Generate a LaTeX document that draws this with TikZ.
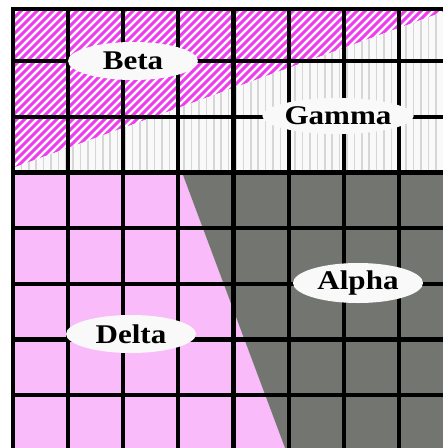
\documentclass[tikz,border=0pt]{standalone}
\usepackage{fontspec}
\usepackage{tikz}
\usepackage{xcolor}
\usetikzlibrary{shapes.geometric}
\newfontfamily\labelfont{Liberation Serif}[FakeStretch=1.15]
\definecolor{hatchpink}{RGB}{240,60,240}
\definecolor{deltapink}{RGB}{249,187,249}
\definecolor{alphagray}{RGB}{115,118,112}
\definecolor{stripegray}{RGB}{214,214,214}
\definecolor{paper}{RGB}{249,249,249}

\begin{document}
\begin{tikzpicture}[
		x=1pt, y=-1pt,
		gridline/.style={line width=4.2pt, draw=black},
		region/.style={draw=none},
		tag/.style={ellipse, fill=paper, inner sep=0pt, minimum width=130pt,
			minimum height=38pt, font=\labelfont\bfseries\fontsize{27}{27}\selectfont}
	]
		\useasboundingbox (0,0) rectangle (443,448);
		% beta: hatched top part
		\begin{scope}
			\clip (12.7,9) -- (443,9) -- (443,12) -- (12.7,168) -- cycle;
			\fill[white] (12.7,9) rectangle (443,168);
			\foreach \s in {0,8,...,620}
				\draw[hatchpink, line width=2.9pt] (\s,0) -- (\s-180,180);
		\end{scope}
		% gamma: vertical stripes
		\begin{scope}
			\clip (12.7,168) -- (443,12) -- (443,172.4) -- (12.7,172.4) -- cycle;
			\fill[paper] (12.7,9) rectangle (443,173);
			\foreach \s in {14,21.4,...,443}
				\draw[stripegray, line width=1.6pt] (\s,0) -- (\s,180);
		\end{scope}
		% delta and alpha
		\fill[region, deltapink] (12.7,172.4) -- (182,172.4) -- (285,448) -- (12.7,448) -- cycle;
		\fill[region, alphagray] (182,172.4) -- (443,172.4) -- (443,448) -- (285,448) -- cycle;
		% grid
		\draw[gridline] (12.7,9) -- (443,9);
		\foreach \j in {0,...,6}
			\draw[gridline] (12.7,61+55.7*\j) -- (443,61+55.7*\j);
		\foreach \i in {0,...,7}
			\draw[gridline] (12.7+55.2*\i,7) -- (12.7+55.2*\i,448);
		% labels
		\node[tag] (beta) at (133,61) {Beta};
		\node[tag, minimum height=36pt] (gamma) at (338,116) {Gamma};
		\node[tag, minimum height=40pt] (alpha) at (358,283) {Alpha};
		\node[tag] (delta) at (131,334) {Delta};
	\end{tikzpicture}
\end{document}
